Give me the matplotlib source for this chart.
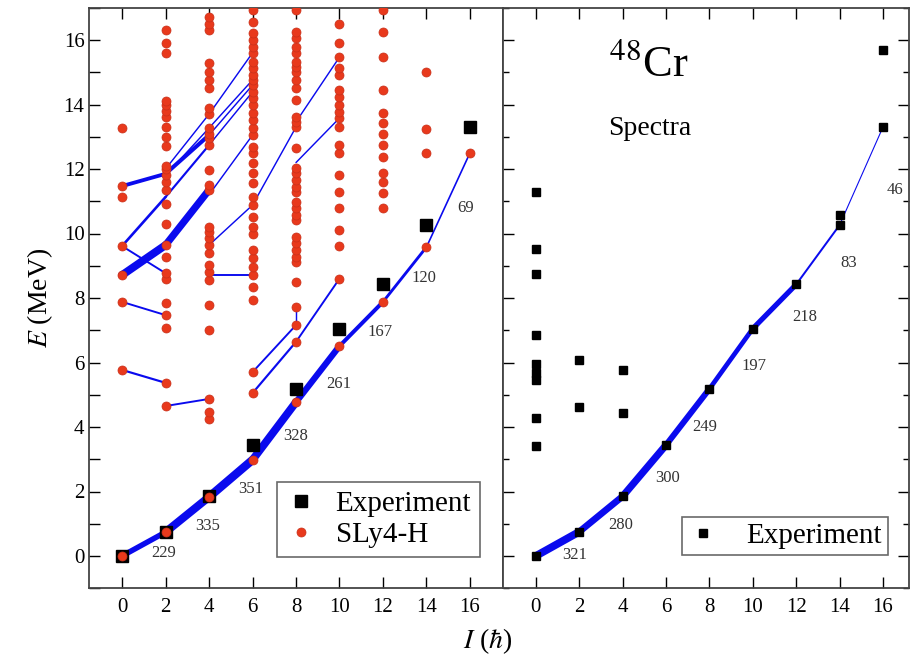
import numpy as np
import matplotlib
matplotlib.use('Agg')
import matplotlib.pyplot as plt
from matplotlib.ticker import MultipleLocator

plt.rcParams['font.family'] = ['Liberation Serif', 'DejaVu Serif']
plt.rcParams['mathtext.fontset'] = 'stix'

# SLy4-H levels (MeV) for each spin I
th_0 = [0.0, 5.77, 7.88, 8.71, 9.61, 11.13, 11.47, 13.27]
th_2 = [0.74, 4.65, 5.37, 7.07, 7.47, 7.84, 8.6, 8.77, 9.27, 9.64, 10.3, 10.9, 11.35, 11.6,
        11.8, 12.0, 12.1, 12.7, 13.0, 13.3, 13.6, 13.8, 14.0, 14.1, 15.6, 15.9, 16.3]
th_4 = [1.83, 4.25, 4.47, 4.87, 7.0, 7.78, 8.56, 8.8, 9.02, 9.4, 9.64, 9.86, 10.05, 10.2,
        11.35, 11.5, 11.97, 12.74, 12.95, 13.1, 13.27, 13.7, 13.9, 14.5, 14.76, 15.0, 15.3,
        16.3, 16.5, 16.7]
th_6 = [2.98, 5.05, 5.7, 7.94, 8.34, 8.71, 8.96, 9.24, 9.49, 10.0, 10.2, 10.51, 10.88, 11.13,
        11.57, 11.88, 12.19, 12.5, 12.68, 13.05, 13.27, 13.52, 13.74, 13.98, 14.2, 14.39,
        14.6, 14.76, 14.91, 15.13, 15.32, 15.6, 15.78, 16.0, 16.22, 16.56, 16.93]
th_8 = [4.77, 6.64, 7.16, 7.72, 8.5, 9.12, 9.27, 9.49, 9.71, 9.89, 10.42, 10.57, 10.79, 10.98,
        11.29, 11.44, 11.66, 11.88, 12.03, 12.65, 13.3, 13.46, 13.61, 14.14, 14.51, 14.76,
        15.01, 15.16, 15.32, 15.6, 15.78, 16.06, 16.25, 16.93]
th_10 = [6.51, 8.6, 9.61, 10.1, 10.79, 11.29, 11.81, 12.5, 12.74, 13.3, 13.58, 13.77, 13.98,
         14.23, 14.45, 14.91, 15.13, 15.47, 15.9, 16.5]
th_12 = [7.88, 10.79, 11.26, 11.6, 11.88, 12.37, 12.74, 13.1, 13.43, 13.74, 14.45, 15.47,
         16.25, 16.93]
th_14 = [9.58, 12.5, 13.24, 15.0]
th_16 = [12.5]
th_levels = [th_0, th_2, th_4, th_6, th_8, th_10, th_12, th_14, th_16]

spins = [0, 2, 4, 6, 8, 10, 12, 14, 16]
th_yrast = [0.0, 0.74, 1.83, 2.98, 4.77, 6.51, 7.88, 9.58, 12.5]
th_be2 = [229, 335, 351, 328, 261, 167, 120, 69]

exp_yrast = [0.0, 0.75, 1.85, 3.44, 5.18, 7.05, 8.42, 10.26, 13.3]
exp_be2 = [321, 280, 300, 249, 197, 218, 83, 46]

# other experimental levels (spin, energy)
exp_other_I = [0, 0, 0, 0, 0, 0, 0, 0, 0, 2, 2, 4, 4, 14, 16]
exp_other_E = [11.29, 9.52, 8.74, 6.85, 5.95, 5.67, 5.46, 4.28, 3.41, 6.08, 4.62, 5.77, 4.43,
               10.57, 15.7]

# non-yrast SLy4-H transitions: (I1, E1, I2, E2, B(E2))
th_links = [
    (0, 11.47, 2, 11.85, 160),
    (2, 11.85, 4, 13.05, 170),
    (2, 12.0, 4, 13.7, 60),
    (4, 13.7, 6, 15.6, 60),
    (2, 11.8, 4, 13.27, 60),
    (4, 13.27, 6, 14.76, 60),
    (4, 13.05, 6, 14.6, 60),
    (0, 9.61, 2, 11.13, 110),
    (2, 11.13, 4, 12.74, 90),
    (4, 12.74, 6, 14.39, 60),
    (0, 9.61, 2, 8.77, 80),
    (0, 8.71, 2, 9.64, 330),
    (2, 9.64, 4, 11.35, 300),
    (4, 11.2, 6, 13.05, 60),
    (0, 7.88, 2, 7.47, 80),
    (0, 5.77, 2, 5.37, 90),
    (2, 4.65, 4, 4.87, 80),
    (4, 8.72, 6, 8.72, 80),
    (4, 9.64, 6, 10.88, 60),
    (6, 10.88, 8, 13.3, 60),
    (8, 13.46, 10, 15.47, 60),
    (8, 12.2, 10, 13.58, 60),
    (6, 5.7, 8, 7.16, 80),
    (8, 7.16, 8, 7.72, 60),
    (6, 5.05, 8, 6.64, 90),
    (8, 6.64, 10, 8.6, 80),
]

# positions of the B(E2) labels
th_lab_x = [1.9, 3.95, 5.9, 8.0, 9.95, 11.85, 13.9, 15.8]
th_lab_y = [0.1, 0.93, 2.08, 3.72, 5.33, 6.95, 8.62, 10.79]
exp_lab_x = [1.8, 3.9, 6.05, 7.8, 10.05, 12.4, 14.4, 16.55]
exp_lab_y = [0.03, 0.96, 2.42, 4.0, 5.9, 7.4, 9.1, 11.35]

blue = '#0a0aee'
red = '#e8391c'

fig = plt.figure(figsize=(9.12, 6.64), dpi=100)
ax1 = fig.add_axes([89.4 / 912, 75.75 / 664, 413.2 / 912, 580.5 / 664])
ax2 = fig.add_axes([502.6 / 912, 75.75 / 664, 406.4 / 912, 580.5 / 664])

lw_scale = 58.0

# left panel
for i in range(len(spins) - 1):
    ax1.plot(spins[i:i + 2], th_yrast[i:i + 2], color=blue, lw=th_be2[i] / lw_scale,
             solid_capstyle='round', zorder=2)
for (i1, e1, i2, e2, b) in th_links:
    ax1.plot([i1, i2], [e1, e2], color=blue, lw=b / lw_scale, solid_capstyle='round', zorder=2)
ax1.plot(spins, exp_yrast, 's', color='black', ms=9, zorder=3, label='Experiment')
first = True
for I, lev in zip(spins, th_levels):
    ax1.plot([I] * len(lev), lev, 'o', color=red, ms=6.5, mec='#c8301a', mew=0.5, zorder=4,
             label='SLy4-H' if first else None)
    first = False
for t, x, y in zip(th_be2, th_lab_x, th_lab_y):
    ax1.text(x, y, str(t), fontsize=12, color='#333333', ha='center', va='center')

# right panel
for i in range(len(spins) - 1):
    ax2.plot(spins[i:i + 2], exp_yrast[i:i + 2], color=blue, lw=exp_be2[i] / lw_scale,
             solid_capstyle='round', zorder=2)
ax2.plot(spins, exp_yrast, 's', color='black', ms=5.5, zorder=3, label='Experiment')
ax2.plot(exp_other_I, exp_other_E, 's', color='black', ms=5.5, zorder=3)
for t, x, y in zip(exp_be2, exp_lab_x, exp_lab_y):
    ax2.text(x, y, str(t), fontsize=12, color='#333333', ha='center', va='center')
ax2.text(5.2, 15.25, r'$^{48}$Cr', fontsize=32, ha='center', va='center')
ax2.text(5.25, 13.27, 'Spectra', fontsize=20, ha='center', va='center')

for ax in (ax1, ax2):
    ax.set_ylim(-1, 17)
    ax.set_xticks(spins)
    ax.yaxis.set_major_locator(MultipleLocator(2))
    ax.yaxis.set_minor_locator(MultipleLocator(1))
    ax.tick_params(axis='both', which='major', direction='in', length=8, width=1,
                   labelsize=15, top=True)
    ax.tick_params(axis='x', pad=7)
    ax.tick_params(axis='y', which='minor', direction='in', length=4, width=1)
    for s in ax.spines.values():
        s.set_linewidth(1.3)
        s.set_color('#444444')
ax1.set_xlim(-1.5, 17.5)
ax2.set_xlim(-1.53, 17.2)
ax1.tick_params(axis='y', which='minor', length=8)
ax1.tick_params(axis='y', which='both', right=False)
ax2.tick_params(axis='y', which='both', right=True, labelleft=False)

ax1.set_ylabel(r'$E$ (MeV)', fontsize=20, labelpad=6)
fig.text(0.535, 0.012, r'$I$ ($\hbar$)', fontsize=20, ha='center', va='bottom')

leg1 = ax1.legend(loc='lower right', bbox_to_anchor=(0.945, 0.054), fontsize=21,
                  frameon=True, fancybox=False, edgecolor='#444444', handletextpad=0.7,
                  borderpad=0.3, labelspacing=0.15, handlelength=1.0, borderaxespad=0)
leg1.get_frame().set_linewidth(1.2)
leg2 = ax2.legend(loc='lower right', bbox_to_anchor=(0.948, 0.057), fontsize=21,
                  frameon=True, fancybox=False, edgecolor='#444444', handletextpad=1.0,
                  borderpad=0.2, handlelength=1.0, borderaxespad=0)
leg2.get_frame().set_linewidth(1.2)

fig.savefig('out.png', dpi=100)
